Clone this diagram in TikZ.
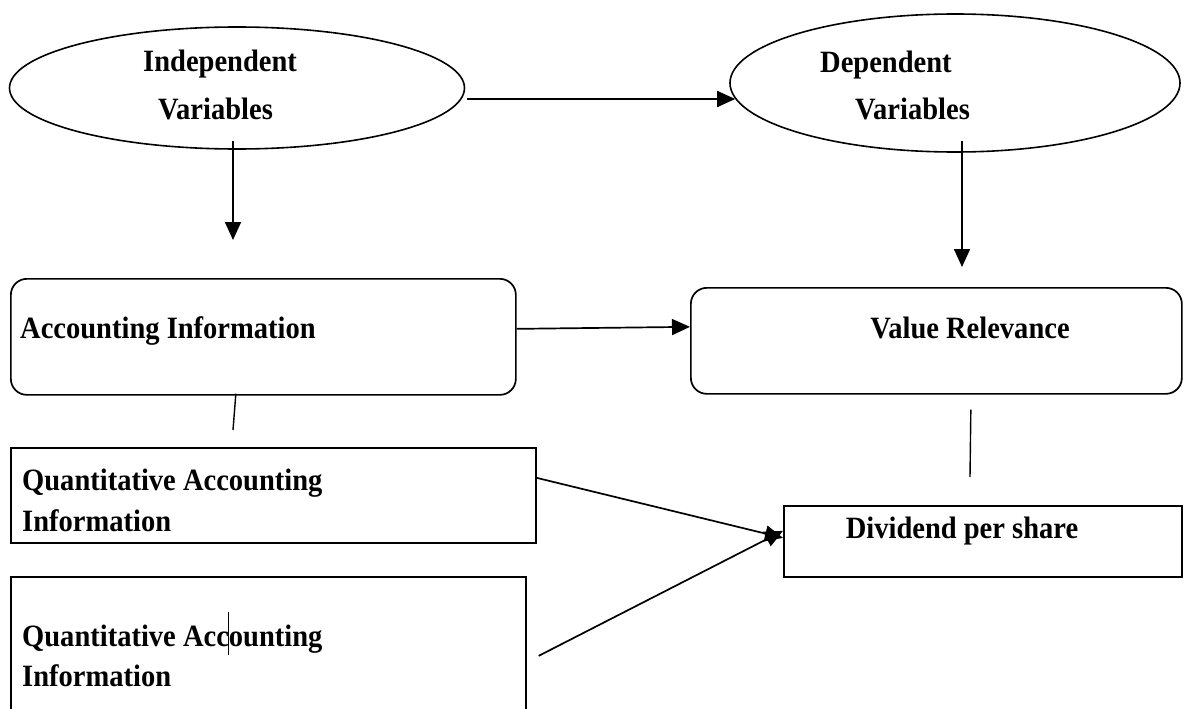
\documentclass[tikz,border=0pt]{standalone}
\usepackage{fontspec}
\setmainfont[FakeStretch=0.92]{Liberation Serif}
\usetikzlibrary{arrows.meta,shapes.geometric}
\begin{document}
\begin{tikzpicture}[x=1pt,y=-1pt,
  lbl/.style={font=\fontsize{31}{34}\selectfont\bfseries, inner sep=0pt},
  oval/.style={draw, ellipse, line width=1.6pt, inner sep=0pt},
  rbox/.style={draw, line width=1.7pt, rounded corners=16pt, inner sep=0pt},
  sbox/.style={draw, line width=1.7pt, inner sep=0pt},
  arr/.style={line width=1.7pt, -{Triangle[length=18pt,width=16pt]}},
  ln/.style={line width=1.4pt}]
\useasboundingbox (0,0) rectangle (1192,709);
\clip (0,0) rectangle (1192,709);
% ellipses
\node[oval, minimum width=455pt, minimum height=122pt] (iv) at (237,88) {};
\node[oval, minimum width=450pt, minimum height=138pt] (dv) at (955,83) {};
\node[lbl, anchor=base west] (ivt1) at (143,71) {Independent};
\node[lbl, anchor=base west] (ivt2) at (158,119) {Variables};
\node[lbl, anchor=base west] (dvt1) at (820,73) {Dependent};
\node[lbl, anchor=base west] (dvt2) at (855,119) {Variables};
% rounded boxes
\node[rbox, minimum width=505pt, minimum height=116pt, anchor=north west] (ai) at (10,278) {};
\node[lbl, anchor=base west] (ait) at (20,338) {Accounting Information};
\node[rbox, minimum width=491pt, minimum height=106pt, anchor=north west] (vr) at (690,287) {};
\node[lbl, anchor=base] (vrt) at (970,338) {Value Relevance};
% plain boxes
\node[sbox, minimum width=525pt, minimum height=95pt, anchor=north west] (q1) at (10,447) {};
\node[lbl, anchor=base west] (q1t1) at (22,490) {Quantitative Accounting};
\node[lbl, anchor=base west] (q1t2) at (22,531) {Information};
\node[sbox, minimum width=515pt, minimum height=150pt, anchor=north west] (q2) at (10,576) {};
\node[lbl, anchor=base west] (q2t1) at (22,646) {Quantitative Acc\makebox[0pt]{\rule[-9pt]{0.9pt}{43pt}}ounting};
\node[lbl, anchor=base west] (q2t2) at (22,686) {Information};
\node[sbox, minimum width=398pt, minimum height=71pt, anchor=north west] (dps) at (783,505) {};
\node[lbl, anchor=base] (dpst) at (962,538) {Dividend per share};
% free ends
\coordinate (ivd) at (233,240);
\coordinate (dvd) at (962,267);
\coordinate (aiq) at (233,430);
\coordinate (vrd) at (970,477);
% connectors
\draw[arr] ([xshift=2pt,yshift=-11pt]iv.east) -- ([xshift=6pt,yshift=-16pt]dv.west);
\draw[arr] ([xshift=-4pt,yshift=9pt]iv.south) -- (ivd);
\draw[arr] ([xshift=7pt,yshift=12pt]dv.south) -- (dvd);
\draw[arr] ([yshift=8pt]ai.east) -- ([yshift=14pt]vr.west);
\draw[ln] ([xshift=-27.5pt,yshift=2pt]ai.south) -- (aiq);
\draw[ln] ([xshift=34.5pt,yshift=-15pt]vr.south) -- (vrd);
\draw[arr] ([yshift=17.5pt]q1.east) -- ([yshift=3.5pt]dps.west);
\draw[arr] ([xshift=12pt,yshift=-4pt]q2.east) -- ([yshift=10.5pt]dps.west);
\end{tikzpicture}
\end{document}
